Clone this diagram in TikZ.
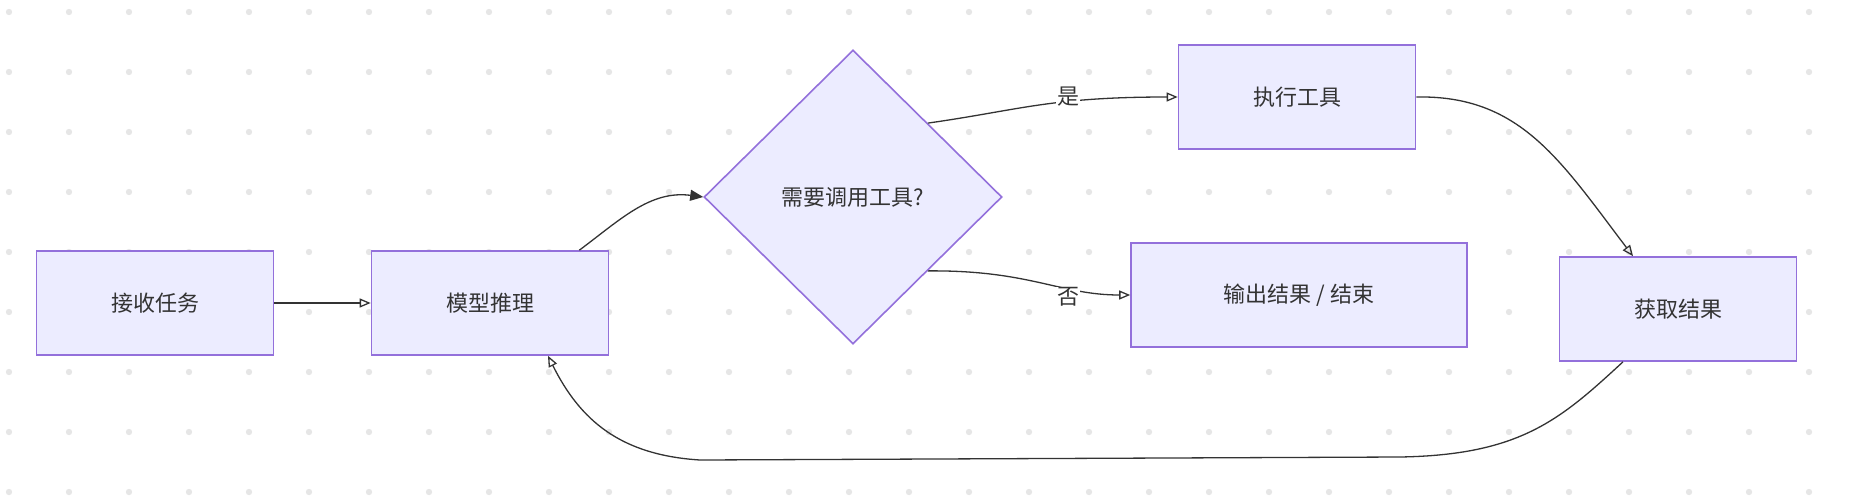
\documentclass[tikz,border=0pt]{standalone}
\usepackage{fontspec}
\setmainfont{Noto Sans CJK SC}
\usetikzlibrary{shapes.geometric,arrows.meta}
\definecolor{boxfill}{HTML}{ECECFF}
\definecolor{boxline}{HTML}{9370DB}
\definecolor{dotgray}{HTML}{E6E6E6}
\tikzset{
  box/.style={draw=boxline,fill=boxfill,line width=1.6pt,minimum width=237pt,minimum height=104pt,font=\fontsize{22}{26}\selectfont,text=black!80},
  decide/.style={diamond,draw=boxline,fill=boxfill,line width=1.6pt,minimum width=298pt,minimum height=294pt,inner sep=0pt,font=\fontsize{22}{26}\selectfont,text=black!80},
  link/.style={draw=black!80,line width=1.3pt,-{Triangle[open,length=11pt,width=9pt]}},
  tag/.style={font=\fontsize{22}{26}\selectfont,text=black!80,fill=white,inner sep=1pt}
}
\begin{document}
\begin{tikzpicture}[x=1pt,y=-1pt]
  \useasboundingbox (0,0) rectangle (1854,498);
  % background dots
  \foreach \i in {0,...,30}
    \foreach \j in {0,...,8}
      \fill[dotgray] (9+60*\i,12+60*\j) circle (3.2pt);
  % nodes
  \node[box] (task) at (155,303) {接收任务};
  \node[box] (infer) at (490,303) {模型推理};
  \node[decide] (need) at (853,197) {需要调用工具?};
  \node[box] (exec) at (1297,97) {执行工具};
  \node[box,minimum width=336pt] (done) at (1299,295) {输出结果 / 结束};
  \node[box] (fetch) at (1678,309) {获取结果};
  % edges
  \draw[link] (task.east) -- (infer.west);
  \draw[link,-{Triangle[length=13pt,width=11pt]}] ([xshift=-30pt]infer.north east) .. controls (620,220) and (650,190) .. (need.west);
  \draw[link] (need.north east) .. controls (1020,110) and (1050,97) .. (exec.west);
  \draw[link] (need.south east) .. controls (1030,270) and (1060,295) .. (done.west);
  \node[tag] (yes) at (1068,97) {是};
  \node[tag] (no) at (1068,297) {否};
  \draw[link] (exec.east) .. controls (1520,95) and (1560,160) .. ([xshift=-45pt]fetch.north);
  \draw[link] ([xshift=-55pt]fetch.south) .. controls (1560,420) and (1520,455) .. (1400,457)
    -- (700,460) .. controls (620,455) and (580,420) .. ([xshift=58pt]infer.south);
\end{tikzpicture}
\end{document}
